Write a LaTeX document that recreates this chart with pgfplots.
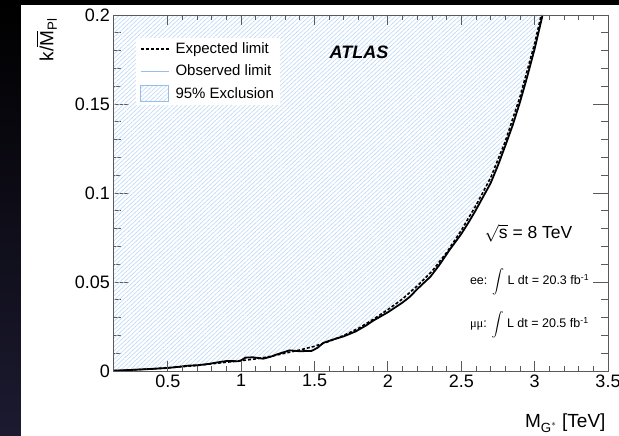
\documentclass[border=0pt]{standalone}
\usepackage{amsmath}
\usepackage{fontspec}
\setmainfont{Liberation Sans}
\usepackage{pgfplots}
\pgfplotsset{compat=1.18}
\usetikzlibrary{patterns.meta}

\definecolor{hatch}{RGB}{188,216,246}
\definecolor{legline}{RGB}{150,190,235}
\definecolor{leftband}{RGB}{28,26,48}
\definecolor{axisgray}{RGB}{90,90,90}

\tikzset{
  hatching/.style={pattern={Lines[angle=43,distance=3.1pt,line width=0.6pt]},
    pattern color=hatch},
}

\pgfplotsset{
  frame/.style={
    at={(0,0)}, anchor=south west, scale only axis,
    width=494.5pt, height=356pt,
    xmin=0.13, xmax=3.5, ymin=0, ymax=0.2,
    xtick={0.5,1,1.5,2,2.5,3,3.5},
    ytick={0,0.05,0.1,0.15,0.2},
    minor x tick num=4, minor y tick num=4,
    tick align=inside,
    axis line style={axisgray, line width=0.8pt},
    every tick/.style={axisgray, line width=0.8pt},
    ticklabel style={font=\fontsize{18}{20}\selectfont},
  },
}

\begin{document}
\begin{tikzpicture}[x=1pt,y=1pt]
\useasboundingbox (-113.5,-65) rectangle (505.5,371);
\fill[white] (-113.5,-65) rectangle (505.5,371);
\shade[top color=black, bottom color=leftband] (-113.5,-65) rectangle (-92.5,371);
\fill[black] (-113.5,366) rectangle (505.5,371);

% main axis: data, y ticks and all tick labels
\begin{axis}[frame,
  xticklabels={0.5,1,1.5,2,2.5,3,3.5},
  yticklabels={0,0.05,0.1,0.15,0.2},
  major x tick style={draw=none}, minor x tick style={draw=none},
  major tick length=15pt, minor tick length=7.5pt,
  legend style={at={(0.045,0.937)}, anchor=north west, draw=none, fill=white,
    font=\fontsize{15}{18}\selectfont, row sep=6pt, column sep=4pt,
    inner xsep=4pt, inner ysep=3pt},
  legend cell align=left,
]
% excluded region (left of / above the observed limit)
\addplot[draw=none, hatching, forget plot] coordinates {
  (0.13,0.2) (0.13,0.0002) (0.2,0.0004) (0.3,0.0008) (0.4,0.0012) (0.5,0.0017)
  (0.6,0.0026) (0.65,0.0031) (0.7,0.0032) (0.78,0.0040) (0.85,0.0050) (0.9,0.0056)
  (0.98,0.0055) (1.0,0.0060) (1.03,0.0075) (1.08,0.0077) (1.15,0.0069) (1.2,0.0080)
  (1.25,0.0095) (1.33,0.0116) (1.4,0.0111) (1.48,0.0113) (1.52,0.0130) (1.56,0.0158)
  (1.62,0.0175) (1.7,0.0195) (1.78,0.0222) (1.85,0.0255) (1.9,0.0283) (2.0,0.0330)
  (2.1,0.0385) (2.15,0.0417) (2.2,0.0460) (2.29,0.0530) (2.35,0.0595) (2.42,0.0680)
  (2.5,0.0770) (2.55,0.0835) (2.6,0.0905) (2.65,0.0980) (2.7,0.1055) (2.75,0.1155)
  (2.8,0.1265) (2.85,0.1380) (2.9,0.1510) (2.95,0.1655) (3.0,0.1810) (3.05,0.1985)
  (3.053,0.2)
} -- cycle;

\addlegendimage{legend image code/.code={\draw[black, line width=1.6pt, dash pattern=on 3pt off 2pt] (0pt,0pt) -- (28pt,0pt);}}
\addlegendimage{legend image code/.code={\draw[legline, line width=0.6pt] (0pt,0pt) -- (28pt,0pt);}}
\addlegendimage{legend image code/.code={\draw[legline, line width=0.6pt, hatching]
  (0pt,-8pt) rectangle (28pt,8pt);}}

% observed limit
\addplot[black, line width=1.8pt, forget plot] coordinates {
  (0.13,0.0002) (0.2,0.0004) (0.3,0.0008) (0.4,0.0012) (0.5,0.0017)
  (0.6,0.0026) (0.65,0.0031) (0.7,0.0032) (0.78,0.0040) (0.85,0.0050) (0.9,0.0056)
  (0.98,0.0055) (1.0,0.0060) (1.03,0.0075) (1.08,0.0077) (1.15,0.0069) (1.2,0.0080)
  (1.25,0.0095) (1.33,0.0116) (1.4,0.0111) (1.48,0.0113) (1.52,0.0130) (1.56,0.0158)
  (1.62,0.0175) (1.7,0.0195) (1.78,0.0222) (1.85,0.0255) (1.9,0.0283) (2.0,0.0330)
  (2.1,0.0385) (2.15,0.0417) (2.2,0.0460) (2.29,0.0530) (2.35,0.0595) (2.42,0.0680)
  (2.5,0.0770) (2.55,0.0835) (2.6,0.0905) (2.65,0.0980) (2.7,0.1055) (2.75,0.1155)
  (2.8,0.1265) (2.85,0.1380) (2.9,0.1510) (2.95,0.1655) (3.0,0.1810) (3.05,0.1985)
  (3.053,0.2)
};
% expected limit
\addplot[black, line width=1.6pt, dash pattern=on 3pt off 2pt, forget plot] coordinates {
  (0.13,0.0002) (0.3,0.0008) (0.5,0.0018) (0.7,0.0031) (0.85,0.0045) (1.0,0.0058)
  (1.1,0.0068) (1.2,0.0082) (1.3,0.0100) (1.4,0.0118) (1.5,0.0139) (1.6,0.0167)
  (1.7,0.0200) (1.8,0.0240) (1.9,0.0290) (2.0,0.0345) (2.1,0.0405) (2.2,0.0478)
  (2.3,0.0560) (2.4,0.0665) (2.5,0.0790) (2.6,0.0930) (2.7,0.1085) (2.8,0.1290)
  (2.9,0.1540) (3.0,0.1840) (3.045,0.2)
};
\legend{Expected limit, Observed limit, 95\% Exclusion}
\end{axis}

% x ticks (shorter than the y ticks)
\begin{axis}[frame,
  xticklabels={}, yticklabels={},
  major y tick style={draw=none}, minor y tick style={draw=none},
  major tick length=10pt, minor tick length=5pt,
]
\end{axis}

\node[font=\fontsize{18}{20}\selectfont\bfseries\itshape] at (245.5,319) {ATLAS};
\node[anchor=west, font=\fontsize{17.5}{20}\selectfont] at (367.5,138) {$\sqrt{\text{s}}$ = 8 TeV};
\node[anchor=west, font=\fontsize{12.5}{14}\selectfont] at (353,89)
  {ee: $\displaystyle\int$ L dt = 20.3 fb$^{\text{-1}}$};
\node[anchor=west, font=\fontsize{12.5}{14}\selectfont] at (353,46)
  {{\fontspec{Liberation Serif}μμ}: $\displaystyle\int$ L dt = 20.5 fb$^{\text{-1}}$};

\node[anchor=base east, font=\fontsize{19}{20}\selectfont] at (495.5,-57)
  {M$_{\text{G}^{*}}$ [TeV]};
\node[anchor=base east, rotate=90, font=\fontsize{19}{20}\selectfont] at (-60.2,356)
  {k/$\overline{\text{M}}_{\text{Pl}}$};
\end{tikzpicture}
\end{document}
